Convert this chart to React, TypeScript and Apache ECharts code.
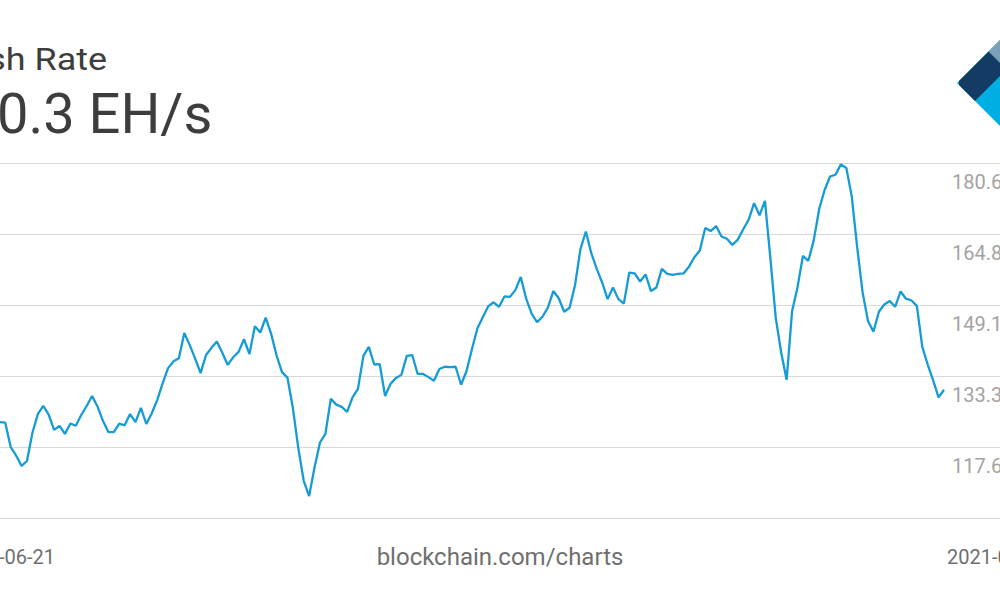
import React, { useEffect, useRef } from "react";
import * as echarts from "echarts";

const startDate = "2020-06-21";
const stepDays = 2;

const hashRate = [
  122.5, 121.8, 123.6, 124.5, 122.7, 121.4, 122.0, 123.4, 122.9, 123.1,
  123.0, 117.6, 115.7, 113.4, 114.5, 120.7, 124.9, 126.7, 124.8, 121.4,
  122.3, 120.5, 122.8, 122.3, 124.7, 126.7, 128.9, 126.6, 123.4, 120.9,
  120.9, 122.8, 122.4, 124.9, 123.1, 126.3, 122.7, 125.1, 128.0, 131.7,
  135.1, 136.6, 137.3, 142.9, 140.2, 137.2, 134.0, 138.0, 139.6, 141.0,
  138.5, 135.8, 137.5, 138.7, 141.5, 138.2, 144.4, 143.0, 146.3, 142.7,
  137.9, 134.2, 133.0, 126.3, 117.4, 110.1, 106.7, 113.1, 118.6, 120.5,
  128.3, 127.0, 126.5, 125.4, 128.6, 130.5, 137.8, 139.8, 135.9, 136.0,
  128.9, 131.6, 132.9, 133.6, 137.8, 138.0, 133.8, 133.8, 133.1, 132.3,
  134.9, 135.4, 135.3, 135.4, 131.4, 134.4, 139.3, 143.9, 146.4, 148.8,
  149.7, 148.7, 151.0, 150.9, 152.4, 155.3, 150.5, 147.2, 145.3, 146.5,
  148.5, 152.2, 150.6, 147.6, 148.5, 153.5, 161.5, 165.4, 160.6, 157.1,
  154.1, 150.4, 153.0, 150.4, 149.4, 156.3, 156.1, 154.3, 155.9, 152.2,
  153.0, 157.1, 156.0, 155.8, 156.0, 156.1, 157.6, 159.7, 161.2, 166.2,
  165.5, 166.6, 164.3, 163.8, 162.4, 163.6, 165.9, 168.0, 171.7, 169.0,
  172.2, 159.5, 146.2, 138.5, 132.5, 147.7, 153.0, 160.0, 158.9, 163.5,
  170.4, 174.6, 177.6, 178.0, 180.3, 179.5, 173.2, 161.9, 151.9, 145.5,
  143.2, 147.6, 149.2, 150.0, 148.7, 152.1, 150.5, 150.1, 148.9, 139.8,
  135.9, 132.4, 128.6, 130.3,
];

const yTickLabels = ["117.6", "133.3", "149.1", "164.8", "180.6"];
const yMin = 101.85;
const yMax = 180.6;

const titleText = "Hash Rate";
const currentText = "130.3 EH/s";
const footerText = "blockchain.com/charts";

function buildDates(): string[] {
  const base = Date.parse(startDate + "T00:00:00Z");
  return hashRate.map((_, i) =>
    new Date(base + i * stepDays * 86400000).toISOString().slice(0, 10)
  );
}

export default function App() {
  const ref = useRef<HTMLDivElement>(null);
  useEffect(() => {
    if (!ref.current) return;
    const chart = echarts.init(ref.current, null, { renderer: "svg" });
    const dates = buildDates();
    const last = dates.length - 1;
    const font = "Roboto, 'Noto Sans', sans-serif";
    chart.setOption({
      animation: false,
      backgroundColor: "#ffffff",
      grid: [
        { left: -49, right: 56, top: 163, bottom: 82, containLabel: false, outerBoundsMode: "none" },
        { left: -49, right: -60, top: 163, bottom: 82, containLabel: false, outerBoundsMode: "none" },
      ],
      xAxis: [
        {
          type: "category",
          gridIndex: 0,
          data: dates,
          boundaryGap: false,
          axisLine: { show: false },
          axisTick: { show: false },
          splitLine: { show: false },
          axisLabel: {
            interval: (idx: number) => idx === 0 || idx === last,
            align: "left",
            margin: 29,
            color: "#6f6f6f",
            fontSize: 20,
            fontFamily: font,
            padding: [0, 0, 0, 3],
          },
        },
        { type: "value", gridIndex: 1, show: false, min: 0, max: 1 },
      ],
      yAxis: [
        {
          type: "value",
          gridIndex: 0,
          min: yMin,
          max: yMax,
          show: false,
          splitLine: { show: false },
        },
        {
          type: "value",
          gridIndex: 1,
          min: 0,
          max: yTickLabels.length,
          interval: 1,
          position: "right",
          axisLine: { show: false },
          axisTick: { show: false },
          splitLine: { show: true, lineStyle: { color: "#d9d9d9", width: 1 } },
          axisLabel: {
            inside: true,
            align: "left",
            margin: 108,
            verticalAlign: "top",
            lineHeight: 37,
            color: "#a3a3a3",
            fontSize: 20,
            fontFamily: font,
            formatter: (v: number) => (v >= 1 ? yTickLabels[Math.round(v) - 1] : ""),
          },
        },
      ],
      series: [
        {
          type: "line",
          xAxisIndex: 0,
          yAxisIndex: 0,
          data: hashRate,
          showSymbol: false,
          symbol: "none",
          lineStyle: { color: "#159bd6", width: 2.3 },
          z: 5,
        },
      ],
      graphic: [
        {
          type: "text",
          x: -58,
          y: 44,
          scaleX: 1.16,
          style: { text: titleText, fill: "#3d3d3d", fontSize: 31, fontFamily: font },
        },
        {
          type: "text",
          left: -66,
          top: 86,
          style: { text: currentText, fill: "#3d3d3d", fontSize: 56, fontFamily: font },
        },
        {
          type: "text",
          x: 500,
          y: 557,
          style: {
            text: footerText,
            fill: "#6f6f6f",
            fontSize: 24,
            fontFamily: font,
            align: "center",
            verticalAlign: "middle",
          },
        },
        {
          type: "polygon",
          shape: { points: [[957, 83], [1010, 30], [1063, 83], [1010, 136]] },
          style: { fill: "#00aee6" },
        },
        {
          type: "polygon",
          shape: { points: [[988.5, 51.5], [1010, 30], [1035, 55], [1012, 76]] },
          style: { fill: "#7ba0b8" },
        },
        {
          type: "polygon",
          shape: { points: [[959, 81], [988.5, 51.5], [1006.5, 69.5], [975, 101], [959, 85]] },
          style: { fill: "#133b63" },
        },
      ],
    });
    return () => chart.dispose();
  }, []);
  return (
    <div
      ref={ref}
      style={{ position: "fixed", left: 0, top: 0, width: 1000, height: 600, overflow: "hidden" }}
    />
  );
}
